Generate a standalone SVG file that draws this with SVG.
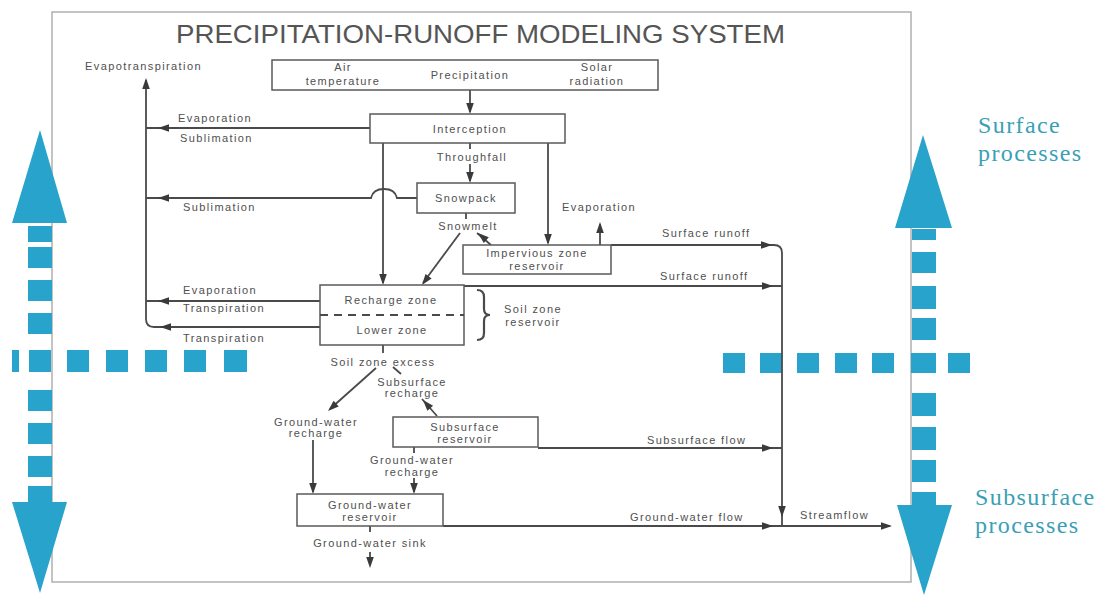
<svg xmlns="http://www.w3.org/2000/svg" width="1108" height="595" viewBox="0 0 1108 595">
<style>
.t{font-family:"Liberation Sans",Arial,sans-serif;font-size:11px;letter-spacing:1.4px;fill:#505050}
.c{text-anchor:middle}
.box{fill:#fff;stroke:#5a5a5a;stroke-width:1.5}
.ln{fill:none;stroke:#4a4a4a;stroke-width:1.8}
.blue{fill:#28a3cb}
.bt{font-family:"Liberation Serif","Times New Roman",serif;font-size:24px;letter-spacing:1.4px;fill:#3a9fb6}
.title{font-family:"Liberation Sans",Arial,sans-serif;font-size:25px;fill:#555}
</style>
<defs>
<path id="ah" d="M0,0 L-11,-3.8 L-11,3.8 Z" fill="#3a3a3a"/>
</defs>
<rect width="1108" height="595" fill="#fff"/>
<rect x="52" y="12" width="859" height="570" fill="none" stroke="#b0b0b0" stroke-width="1.5"/>

<!-- blue process arrows -->
<g id="left-blue">
<polygon class="blue" points="40,130 12,223 67,223"/>
<polygon class="blue" points="12,502 67,502 40,593"/>
<rect class="blue" x="28" y="226" width="24" height="16"/>
<rect class="blue" x="28" y="247" width="24" height="21"/>
<rect class="blue" x="28" y="280" width="24" height="21"/>
<rect class="blue" x="28" y="313" width="24" height="21"/>
<rect class="blue" x="28" y="390" width="24" height="21"/>
<rect class="blue" x="28" y="423" width="24" height="21"/>
<rect class="blue" x="28" y="456" width="24" height="21"/>
<rect class="blue" x="28" y="486" width="24" height="17"/>
<rect class="blue" x="12" y="350" width="7" height="22"/>
<rect class="blue" x="29" y="350" width="22" height="22"/>
<rect class="blue" x="67" y="350" width="22" height="22"/>
<rect class="blue" x="106" y="350" width="22" height="22"/>
<rect class="blue" x="145" y="350" width="22" height="22"/>
<rect class="blue" x="184" y="350" width="22" height="22"/>
<rect class="blue" x="224" y="350" width="23" height="22"/>
</g>
<g id="right-blue">
<polygon class="blue" points="923,135 895,228 952,228"/>
<polygon class="blue" points="897,505 952,505 924,595"/>
<rect class="blue" x="912" y="229" width="24" height="11"/>
<rect class="blue" x="912" y="252" width="24" height="21"/>
<rect class="blue" x="912" y="286" width="24" height="23"/>
<rect class="blue" x="912" y="318" width="24" height="22"/>
<rect class="blue" x="912" y="393" width="24" height="23"/>
<rect class="blue" x="912" y="427" width="24" height="23"/>
<rect class="blue" x="912" y="460" width="24" height="22"/>
<rect class="blue" x="912" y="492" width="24" height="14"/>
<rect class="blue" x="723" y="353" width="22" height="20"/>
<rect class="blue" x="760" y="353" width="22" height="20"/>
<rect class="blue" x="797" y="353" width="22" height="20"/>
<rect class="blue" x="835" y="353" width="22" height="20"/>
<rect class="blue" x="872" y="353" width="22" height="20"/>
<rect class="blue" x="911" y="353" width="25" height="20"/>
<rect class="blue" x="948" y="353" width="22" height="20"/>
</g>
<g id="process-labels">
<text class="bt" x="978" y="133">Surface</text>
<text class="bt" x="978" y="161">processes</text>
<text class="bt" x="975" y="505">Subsurface</text>
<text class="bt" x="975" y="533">processes</text>
</g>

<text class="title" x="176" y="43" textLength="609" lengthAdjust="spacingAndGlyphs">PRECIPITATION-RUNOFF MODELING SYSTEM</text>

<!-- connectors -->
<g id="connectors">
<path class="ln" d="M146,80 V319 Q146,327 154,327 H320"/>
<use href="#ah" transform="translate(146,78) rotate(-90)"/>
<path class="ln" d="M370,128 H146"/>
<use href="#ah" transform="translate(158,128) rotate(180)"/>
<path class="ln" d="M417,198 H397 Q395,189 384,189 Q373,189 371,198 H146"/>
<use href="#ah" transform="translate(158,198) rotate(180)"/>
<path class="ln" d="M320,301 H146"/>
<use href="#ah" transform="translate(158,301) rotate(180)"/>
<use href="#ah" transform="translate(160,327) rotate(180)"/>
<path class="ln" d="M470,90 V112"/>
<use href="#ah" transform="translate(470,114) rotate(90)"/>
<path class="ln" d="M470,143 V149 M470,164 V181"/>
<use href="#ah" transform="translate(470,183) rotate(90)"/>
<path class="ln" d="M383,143 V283"/>
<use href="#ah" transform="translate(383,285) rotate(90)"/>
<path class="ln" d="M548,143 V243"/>
<use href="#ah" transform="translate(548,245) rotate(90)"/>
<path class="ln" d="M466,213 V219"/>
<path class="ln" d="M460,233 L423,283"/>
<use href="#ah" transform="translate(422,285) rotate(126.5)"/>
<path class="ln" d="M477,233 L491,245"/>
<use href="#ah" transform="translate(478,233) rotate(-139)"/>
<path class="ln" d="M600,245 V224"/>
<use href="#ah" transform="translate(600,222) rotate(-90)"/>
<path class="ln" d="M611,245 H774 Q782,245 782,253 V526"/>
<use href="#ah" transform="translate(772,245)"/>
<path class="ln" d="M464,286 H782"/>
<use href="#ah" transform="translate(773,286)"/>
<path class="ln" d="M383,345 V353"/>
<path class="ln" d="M376,368 L330,409"/>
<use href="#ah" transform="translate(328,411) rotate(138)"/>
<path class="ln" d="M393,367 L401,374"/>
<path class="ln" d="M422,399 L437,416"/>
<use href="#ah" transform="translate(423,400) rotate(-131)"/>
<path class="ln" d="M538,448 H782"/>
<use href="#ah" transform="translate(773,448)"/>
<path class="ln" d="M313,440 V492"/>
<use href="#ah" transform="translate(313,494) rotate(90)"/>
<path class="ln" d="M414,447 V453 M414,478 V492"/>
<use href="#ah" transform="translate(414,494) rotate(90)"/>
<path class="ln" d="M443,526 H890"/>
<use href="#ah" transform="translate(773,526)"/>
<use href="#ah" transform="translate(782,517) rotate(90)"/>
<use href="#ah" transform="translate(892,526)"/>
<path class="ln" d="M370,526 V532 M370,552 V565"/>
<use href="#ah" transform="translate(370,568) rotate(90)"/>
<path d="M477,290 Q484,290 484,297 V309 Q484,315 490,315 Q484,315 484,321 V333 Q484,340 477,340" fill="none" stroke="#4a4a4a" stroke-width="2.2"/>
</g>

<!-- flow labels -->
<g id="flow-labels">
<text class="t" x="85" y="70">Evapotranspiration</text>
<text class="t" x="178" y="122">Evaporation</text>
<text class="t" x="180" y="142">Sublimation</text>
<text class="t c" x="472" y="161">Throughfall</text>
<text class="t" x="183" y="211">Sublimation</text>
<text class="t c" x="468" y="230">Snowmelt</text>
<text class="t" x="562" y="211">Evaporation</text>
<text class="t" x="662" y="237">Surface runoff</text>
<text class="t" x="660" y="280">Surface runoff</text>
<text class="t" x="183" y="294">Evaporation</text>
<text class="t" x="183" y="312">Transpiration</text>
<text class="t" x="183" y="342">Transpiration</text>
<text class="t c" x="533" y="313">Soil zone</text>
<text class="t c" x="533" y="326">reservoir</text>
<text class="t c" x="383" y="366">Soil zone excess</text>
<text class="t c" x="412" y="386">Subsurface</text>
<text class="t c" x="412" y="397">recharge</text>
<text class="t c" x="316" y="426">Ground-water</text>
<text class="t c" x="316" y="437">recharge</text>
<text class="t c" x="412" y="464">Ground-water</text>
<text class="t c" x="412" y="476">recharge</text>
<text class="t" x="647" y="444">Subsurface flow</text>
<text class="t" x="630" y="521">Ground-water flow</text>
<text class="t" x="800" y="519">Streamflow</text>
<text class="t c" x="370" y="547">Ground-water sink</text>
</g>

<!-- nodes -->
<g id="inputs">
<rect class="box" x="272" y="60" width="386" height="30"/>
<text class="t c" x="343" y="71">Air</text>
<text class="t c" x="343" y="85">temperature</text>
<text class="t c" x="470" y="79">Precipitation</text>
<text class="t c" x="597" y="71">Solar</text>
<text class="t c" x="597" y="85">radiation</text>
</g>
<g id="interception">
<rect class="box" x="370" y="114" width="195" height="29"/>
<text class="t c" x="470" y="133">Interception</text>
</g>
<g id="snowpack">
<rect class="box" x="417" y="183" width="98" height="30"/>
<text class="t c" x="466" y="202">Snowpack</text>
</g>
<g id="impervious">
<rect class="box" x="463" y="245" width="148" height="29"/>
<text class="t c" x="537" y="257">Impervious zone</text>
<text class="t c" x="537" y="270">reservoir</text>
</g>
<g id="soil-zone">
<rect class="box" x="320" y="285" width="144" height="60"/>
<line x1="320" y1="315" x2="464" y2="315" stroke="#4a4a4a" stroke-width="1.8" stroke-dasharray="8,6"/>
<text class="t c" x="391" y="304">Recharge zone</text>
<text class="t c" x="392" y="334">Lower zone</text>
</g>
<g id="subsurface">
<rect class="box" x="393" y="417" width="145" height="30"/>
<text class="t c" x="465" y="431">Subsurface</text>
<text class="t c" x="465" y="443">reservoir</text>
</g>
<g id="groundwater">
<rect class="box" x="297" y="494" width="146" height="32"/>
<text class="t c" x="370" y="509">Ground-water</text>
<text class="t c" x="370" y="521">reservoir</text>
</g>
</svg>
